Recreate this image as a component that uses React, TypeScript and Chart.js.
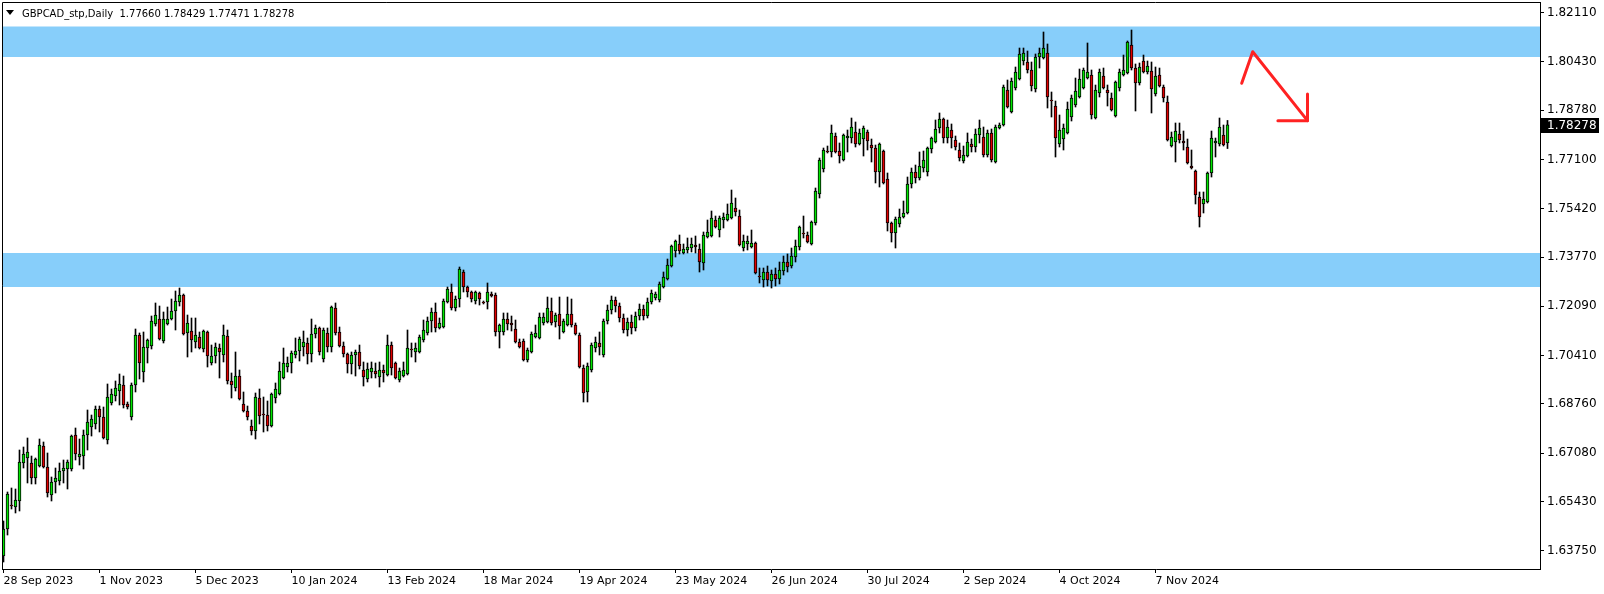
import React, { useEffect, useRef } from 'react';
import { Chart, registerables } from 'chart.js';

Chart.register(...registerables);

const symbolTitle = 'GBPCAD_stp,Daily';

const opens = [
  1.63576, 1.64497, 1.65315, 1.65247, 1.65452, 1.66748, 1.66918, 1.66748, 1.66236, 1.66645,
  1.67327, 1.66611, 1.65656, 1.66100, 1.66134, 1.66475, 1.66543, 1.66543, 1.67702, 1.66952,
  1.66986, 1.67702, 1.67975, 1.68078, 1.68589, 1.68316, 1.67532, 1.68794, 1.69032, 1.69203,
  1.69407, 1.68760, 1.68316, 1.69407, 1.71112, 1.69851, 1.70669, 1.70737, 1.71488, 1.71658,
  1.70908, 1.71488, 1.71658, 1.71931, 1.72238, 1.72476, 1.71181, 1.71249, 1.70874, 1.71044,
  1.70635, 1.71215, 1.70158, 1.70396, 1.70669, 1.70430, 1.71078, 1.69544, 1.69305, 1.69714,
  1.68760, 1.68521, 1.68009, 1.67839, 1.68964, 1.68419, 1.68384, 1.68009, 1.68964, 1.69101,
  1.69646, 1.70021, 1.70158, 1.70430, 1.70567, 1.70703, 1.70840, 1.70465, 1.71147, 1.71351,
  1.70294, 1.71181, 1.70703, 1.72033, 1.71215, 1.70737, 1.70465, 1.70124, 1.70430, 1.70533,
  1.69919, 1.69612, 1.69851, 1.69885, 1.69680, 1.69919, 1.69748, 1.70771, 1.70158, 1.69578,
  1.69714, 1.69783, 1.70635, 1.70533, 1.70533, 1.70942, 1.71181, 1.71590, 1.71897, 1.71351,
  1.71385, 1.72238, 1.72579, 1.72033, 1.72340, 1.73261, 1.72749, 1.72579, 1.72272, 1.72545,
  1.72238, 1.72238, 1.72511, 1.72476, 1.71215, 1.71215, 1.71658, 1.71522, 1.71317, 1.70874,
  1.70908, 1.70260, 1.70533, 1.71044, 1.71010, 1.71522, 1.71556, 1.71931, 1.71556, 1.71829,
  1.71215, 1.71453, 1.71829, 1.71453, 1.71112, 1.69987, 1.69169, 1.69919, 1.70669, 1.70840,
  1.70430, 1.71590, 1.71965, 1.72306, 1.72101, 1.71692, 1.71283, 1.71556, 1.71351, 1.71760,
  1.71999, 1.71760, 1.72238, 1.72374, 1.72306, 1.72749, 1.73022, 1.73465, 1.73977, 1.74216,
  1.73909, 1.74011, 1.74079, 1.74181, 1.74045, 1.73568, 1.74454, 1.74488, 1.75034, 1.74693,
  1.75034, 1.75034, 1.75102, 1.75443, 1.75170, 1.74079, 1.74216, 1.74113, 1.74250, 1.73124,
  1.72988, 1.73261, 1.72954, 1.73193, 1.73022, 1.73295, 1.73602, 1.73465, 1.73772, 1.74113,
  1.74591, 1.74522, 1.74216, 1.74932, 1.75921, 1.76773, 1.77387, 1.77353, 1.77898, 1.77387,
  1.77080, 1.77830, 1.77830, 1.78035, 1.77626, 1.77796, 1.78035, 1.77591, 1.77489, 1.76671,
  1.77387, 1.76432, 1.74932, 1.74591, 1.74898, 1.75136, 1.75273, 1.76262, 1.76671, 1.76466,
  1.76807, 1.76671, 1.77455, 1.77694, 1.78171, 1.78478, 1.77830, 1.78103, 1.77762, 1.77421,
  1.77046, 1.77216, 1.77626, 1.77523, 1.77932, 1.77864, 1.77250, 1.78001, 1.77012, 1.78171,
  1.78273, 1.79467, 1.78717, 1.79535, 1.79842, 1.80456, 1.80422, 1.80149, 1.79501, 1.80592,
  1.80558, 1.80729, 1.79126, 1.78921, 1.77626, 1.77796, 1.78001, 1.78546, 1.78955, 1.79228,
  1.79535, 1.79876, 1.79978, 1.78512, 1.79365, 1.79944, 1.79467, 1.79194, 1.78580, 1.79535,
  1.79978, 1.80047, 1.81001, 1.80217, 1.79706, 1.80456, 1.80081, 1.80115, 1.79331, 1.79978,
  1.79569, 1.79058, 1.77557, 1.77694, 1.77967, 1.77728, 1.77523, 1.76875, 1.76705, 1.75818,
  1.75580, 1.75648, 1.76637, 1.77660, 1.77626, 1.77932, 1.77660,
];

const highs = [
  1.64770, 1.65759, 1.65895, 1.65861, 1.67191, 1.67293, 1.67600, 1.66986, 1.66918, 1.67566,
  1.67464, 1.67089, 1.66270, 1.66577, 1.66748, 1.66850, 1.66850, 1.67702, 1.67941, 1.67566,
  1.67873, 1.68555, 1.68384, 1.68691, 1.68691, 1.68657, 1.69442, 1.69271, 1.69544, 1.69783,
  1.69714, 1.68828, 1.69476, 1.71317, 1.71181, 1.71215, 1.70976, 1.71760, 1.72204, 1.72101,
  1.71897, 1.72067, 1.72340, 1.72613, 1.72715, 1.72511, 1.71794, 1.71692, 1.71692, 1.71215,
  1.71283, 1.71249, 1.70771, 1.70840, 1.70806, 1.71453, 1.71283, 1.69817, 1.70533, 1.69919,
  1.69169, 1.68691, 1.68214, 1.69135, 1.69271, 1.68998, 1.68862, 1.69135, 1.69476, 1.70192,
  1.70669, 1.70362, 1.70567, 1.71010, 1.71044, 1.71249, 1.71010, 1.71658, 1.71453, 1.71385,
  1.71351, 1.71351, 1.72101, 1.72204, 1.71385, 1.70874, 1.70499, 1.70533, 1.70601, 1.70771,
  1.70192, 1.70158, 1.70192, 1.70158, 1.70192, 1.70089, 1.71112, 1.70874, 1.70192, 1.69987,
  1.70192, 1.71283, 1.70840, 1.70840, 1.71112, 1.71624, 1.71726, 1.72033, 1.72204, 1.71692,
  1.72340, 1.72749, 1.72852, 1.72442, 1.73431, 1.73329, 1.72783, 1.72613, 1.72613, 1.72579,
  1.72272, 1.72886, 1.72579, 1.72545, 1.71488, 1.71863, 1.71863, 1.71760, 1.71624, 1.70976,
  1.70976, 1.70669, 1.71215, 1.71453, 1.71863, 1.71863, 1.72408, 1.72374, 1.71863, 1.72408,
  1.71658, 1.72408, 1.72340, 1.71522, 1.71181, 1.70089, 1.70158, 1.70840, 1.71044, 1.71215,
  1.71658, 1.72135, 1.72442, 1.72408, 1.72204, 1.71829, 1.71692, 1.71794, 1.71897, 1.72170,
  1.72135, 1.72374, 1.72647, 1.72579, 1.72920, 1.73261, 1.73704, 1.74181, 1.74352, 1.74522,
  1.74216, 1.74420, 1.74420, 1.74488, 1.74216, 1.74625, 1.75034, 1.75341, 1.75170, 1.75170,
  1.75273, 1.75580, 1.76057, 1.75784, 1.75375, 1.74522, 1.74488, 1.74693, 1.74284, 1.73397,
  1.73397, 1.73465, 1.73329, 1.73397, 1.73602, 1.73806, 1.73875, 1.74079, 1.74352, 1.74829,
  1.75170, 1.74625, 1.75000, 1.76125, 1.77148, 1.77489, 1.77557, 1.78273, 1.78001, 1.77660,
  1.77967, 1.78103, 1.78512, 1.78376, 1.78137, 1.78239, 1.78103, 1.77796, 1.77591, 1.77660,
  1.77421, 1.76637, 1.74966, 1.75136, 1.75409, 1.75682, 1.76500, 1.76807, 1.76909, 1.77353,
  1.77387, 1.77523, 1.77864, 1.78444, 1.78683, 1.78512, 1.78444, 1.78308, 1.77898, 1.77660,
  1.77557, 1.78001, 1.77796, 1.78137, 1.78444, 1.78205, 1.78103, 1.78137, 1.78273, 1.78342,
  1.79637, 1.79808, 1.79876, 1.80251, 1.80899, 1.80899, 1.80797, 1.80422, 1.80695, 1.80899,
  1.81445, 1.81036, 1.79399, 1.79092, 1.78614, 1.78308, 1.79058, 1.79296, 1.79876, 1.80183,
  1.80217, 1.81070, 1.80149, 1.79637, 1.80183, 1.80217, 1.79637, 1.79365, 1.79774, 1.80183,
  1.80660, 1.81138, 1.81513, 1.80354, 1.80388, 1.80660, 1.80456, 1.80422, 1.80251, 1.80217,
  1.79637, 1.79262, 1.78035, 1.78342, 1.78342, 1.78069, 1.77796, 1.77421, 1.76739, 1.75989,
  1.75989, 1.76671, 1.78069, 1.77830, 1.78512, 1.78273, 1.78429,
];

const lows = [
  1.63372, 1.64292, 1.65179, 1.65043, 1.65111, 1.66577, 1.66066, 1.66032, 1.66032, 1.66611,
  1.66577, 1.65588, 1.65452, 1.65725, 1.65997, 1.66066, 1.65861, 1.66475, 1.66850, 1.66679,
  1.66543, 1.67191, 1.67668, 1.67907, 1.67805, 1.67566, 1.67396, 1.68725, 1.68862, 1.68725,
  1.68623, 1.68589, 1.68214, 1.69169, 1.69612, 1.69510, 1.70158, 1.70635, 1.71419, 1.70942,
  1.70840, 1.71453, 1.71624, 1.71283, 1.72101, 1.71112, 1.70362, 1.70533, 1.70669, 1.70635,
  1.70533, 1.70021, 1.70089, 1.70158, 1.69646, 1.70192, 1.69442, 1.68964, 1.69203, 1.68896,
  1.68487, 1.68214, 1.67702, 1.67566, 1.68078, 1.67805, 1.67839, 1.67975, 1.68794, 1.69066,
  1.69612, 1.69851, 1.69817, 1.70328, 1.70226, 1.70396, 1.70124, 1.70192, 1.71010, 1.70430,
  1.70192, 1.70533, 1.70533, 1.71112, 1.70703, 1.70362, 1.69817, 1.69783, 1.69714, 1.69953,
  1.69373, 1.69510, 1.69646, 1.69646, 1.69339, 1.69510, 1.69714, 1.69748, 1.69612, 1.69510,
  1.69680, 1.69748, 1.70362, 1.70192, 1.70499, 1.70874, 1.71112, 1.71215, 1.71215, 1.71317,
  1.71351, 1.72204, 1.71965, 1.71931, 1.72067, 1.72579, 1.72408, 1.72238, 1.72170, 1.72135,
  1.72170, 1.71999, 1.72408, 1.71078, 1.70669, 1.71112, 1.71283, 1.71249, 1.70840, 1.70669,
  1.70226, 1.70192, 1.70499, 1.71010, 1.70976, 1.71453, 1.71522, 1.71453, 1.71385, 1.70976,
  1.71181, 1.71419, 1.71385, 1.71112, 1.69987, 1.68828, 1.68828, 1.69851, 1.70533, 1.70430,
  1.70362, 1.71488, 1.71829, 1.71897, 1.71556, 1.71181, 1.71078, 1.71147, 1.71249, 1.71624,
  1.71624, 1.71692, 1.72170, 1.72306, 1.72238, 1.72715, 1.72988, 1.73431, 1.73772, 1.73875,
  1.73875, 1.73909, 1.73943, 1.73909, 1.73261, 1.73329, 1.74420, 1.74454, 1.74761, 1.74454,
  1.74761, 1.75000, 1.75068, 1.75170, 1.74147, 1.73977, 1.74011, 1.74079, 1.73193, 1.72886,
  1.72749, 1.72783, 1.72715, 1.72783, 1.72852, 1.73158, 1.73261, 1.73397, 1.73602, 1.74011,
  1.74420, 1.74250, 1.74181, 1.74863, 1.75784, 1.76671, 1.77319, 1.77182, 1.77319, 1.76978,
  1.77046, 1.77353, 1.77660, 1.77523, 1.77591, 1.77216, 1.77421, 1.77012, 1.76296, 1.76159,
  1.76262, 1.74659, 1.74284, 1.74079, 1.74795, 1.75102, 1.75239, 1.76125, 1.76296, 1.76398,
  1.76671, 1.76534, 1.77319, 1.77660, 1.78001, 1.77660, 1.77660, 1.77489, 1.77421, 1.77046,
  1.76978, 1.77182, 1.77353, 1.77353, 1.77660, 1.77182, 1.77182, 1.77012, 1.76978, 1.78137,
  1.78239, 1.78853, 1.78683, 1.79467, 1.79808, 1.80319, 1.80047, 1.79433, 1.79399, 1.80217,
  1.80524, 1.78853, 1.78546, 1.77182, 1.77523, 1.77421, 1.77967, 1.78410, 1.78887, 1.79194,
  1.79501, 1.79842, 1.78478, 1.78478, 1.79228, 1.79501, 1.78921, 1.78751, 1.78546, 1.79433,
  1.79944, 1.80013, 1.80149, 1.78751, 1.79637, 1.80047, 1.80013, 1.78683, 1.79262, 1.79569,
  1.79058, 1.77728, 1.77523, 1.77012, 1.77660, 1.77421, 1.76944, 1.76773, 1.75580, 1.74795,
  1.75273, 1.75614, 1.76500, 1.77182, 1.77557, 1.77557, 1.77471,
];

const closes = [
  1.64497, 1.65691, 1.65281, 1.65486, 1.66782, 1.67055, 1.67123, 1.66236, 1.66884, 1.67361,
  1.66611, 1.65725, 1.66100, 1.66236, 1.66475, 1.66577, 1.66782, 1.67668, 1.67055, 1.67055,
  1.67702, 1.68146, 1.68248, 1.68589, 1.68316, 1.67600, 1.68998, 1.69101, 1.69305, 1.69442,
  1.68725, 1.68657, 1.69407, 1.71112, 1.70158, 1.70703, 1.70942, 1.71590, 1.71794, 1.70976,
  1.71658, 1.71658, 1.71931, 1.72272, 1.72476, 1.71147, 1.71522, 1.70942, 1.71112, 1.70669,
  1.71249, 1.70396, 1.70396, 1.70703, 1.70533, 1.71112, 1.69544, 1.69407, 1.69714, 1.68930,
  1.68521, 1.68316, 1.67839, 1.68998, 1.68350, 1.68384, 1.68009, 1.69101, 1.69271, 1.69885,
  1.70158, 1.70158, 1.70499, 1.70567, 1.70976, 1.70874, 1.70465, 1.71147, 1.71351, 1.70533,
  1.71283, 1.70703, 1.72067, 1.71181, 1.70737, 1.70465, 1.70124, 1.70430, 1.70533, 1.70055,
  1.69680, 1.69953, 1.69987, 1.69783, 1.69919, 1.69817, 1.70771, 1.69987, 1.69646, 1.69885,
  1.69919, 1.70669, 1.70601, 1.70669, 1.71044, 1.71283, 1.71590, 1.71897, 1.71351, 1.71522,
  1.72272, 1.72681, 1.72033, 1.72340, 1.73363, 1.72749, 1.72579, 1.72340, 1.72579, 1.72340,
  1.72204, 1.72579, 1.72442, 1.71215, 1.71453, 1.71658, 1.71488, 1.71453, 1.70874, 1.70703,
  1.70260, 1.70601, 1.71147, 1.71181, 1.71726, 1.71726, 1.72033, 1.71522, 1.71794, 1.71419,
  1.71590, 1.71829, 1.71453, 1.71147, 1.70021, 1.69135, 1.70055, 1.70771, 1.70874, 1.70703,
  1.71590, 1.71965, 1.72306, 1.72101, 1.71692, 1.71283, 1.71556, 1.71351, 1.71760, 1.71999,
  1.71760, 1.72238, 1.72545, 1.72511, 1.72852, 1.73090, 1.73499, 1.74147, 1.74318, 1.73977,
  1.74045, 1.74113, 1.74216, 1.74113, 1.73602, 1.74522, 1.74625, 1.75102, 1.74795, 1.75102,
  1.75136, 1.75239, 1.75614, 1.75307, 1.74181, 1.74318, 1.74318, 1.74250, 1.73227, 1.73090,
  1.73261, 1.72988, 1.73193, 1.73022, 1.73329, 1.73602, 1.73431, 1.73806, 1.74147, 1.74795,
  1.74557, 1.74284, 1.74966, 1.76023, 1.77080, 1.77421, 1.77353, 1.78001, 1.77353, 1.77216,
  1.77932, 1.77898, 1.78205, 1.77626, 1.78001, 1.78171, 1.77728, 1.77489, 1.76671, 1.77626,
  1.76296, 1.74932, 1.74591, 1.75068, 1.75136, 1.75273, 1.76262, 1.76671, 1.76466, 1.76875,
  1.77080, 1.77489, 1.77830, 1.78137, 1.78478, 1.77830, 1.78205, 1.77830, 1.77523, 1.77148,
  1.77250, 1.77694, 1.77523, 1.77967, 1.78171, 1.77250, 1.78001, 1.77080, 1.78205, 1.78273,
  1.79569, 1.78887, 1.79774, 1.80081, 1.80695, 1.80729, 1.80149, 1.79603, 1.80592, 1.80729,
  1.80899, 1.79228, 1.79092, 1.77830, 1.78103, 1.78171, 1.78819, 1.79194, 1.79433, 1.79842,
  1.80149, 1.80081, 1.78614, 1.79467, 1.80081, 1.79535, 1.79365, 1.78785, 1.79740, 1.80081,
  1.80149, 1.81104, 1.80217, 1.79706, 1.80251, 1.80081, 1.80285, 1.79501, 1.79944, 1.79603,
  1.79194, 1.77762, 1.77864, 1.78069, 1.77762, 1.77660, 1.76978, 1.76807, 1.75886, 1.75136,
  1.75750, 1.76637, 1.77830, 1.77728, 1.78205, 1.77591, 1.78278,
];

const dateTickLabels = [
  '28 Sep 2023', '1 Nov 2023', '5 Dec 2023', '10 Jan 2024', '13 Feb 2024', '18 Mar 2024',
  '19 Apr 2024', '23 May 2024', '26 Jun 2024', '30 Jul 2024', '2 Sep 2024', '4 Oct 2024', '7 Nov 2024',
];
const dateTickBars = [0, 24, 48, 72, 96, 120, 144, 168, 192, 216, 240, 264, 288];

const priceTicks = [
  1.82110, 1.80430, 1.78780, 1.77100, 1.75420, 1.73770,
  1.72090, 1.70410, 1.68760, 1.67080, 1.65430, 1.63750,
];

const zoneUpper = [1.80593, 1.81633];
const zoneLower = [1.72750, 1.73909];

const arrowBarX = [309.55, 312.3, 326];
const arrowPriceY = [1.79696, 1.80773, 1.78421];
const arrowHeadBarX = [318.6, 326, 326];
const arrowHeadPriceY = [1.78421, 1.78421, 1.79331];

const X_MIN = -0.375;
const X_MAX = 384.125;
const Y_MIN = 1.63133;
const Y_MAX = 1.82468;

const FONT = '"DejaVu Sans", Verdana, sans-serif';

export default function App() {
  const ref = useRef<HTMLCanvasElement>(null);
  const last = closes.length - 1;
  const headerText = `${symbolTitle}  ${opens[last].toFixed(5)} ${highs[last].toFixed(5)} ${lows[last].toFixed(5)} ${closes[last].toFixed(5)}`;

  useEffect(() => {
    if (!ref.current) return;
    const idx = closes.map((_, i) => i);
    const bodyColors = idx.map((i) => (closes[i] >= opens[i] ? '#00e600' : '#e00000'));

    const framePlugin = {
      id: 'frame',
      afterDraw(chart: any) {
        const { ctx, chartArea: a } = chart;
        ctx.save();
        ctx.strokeStyle = '#000';
        ctx.lineWidth = 1;
        ctx.beginPath();
        ctx.moveTo(a.left + 0.5, a.bottom);
        ctx.lineTo(a.left + 0.5, a.top + 0.5);
        ctx.lineTo(a.right, a.top + 0.5);
        ctx.stroke();
        ctx.restore();
      },
    };

    const priceTagPlugin = {
      id: 'priceTag',
      afterDraw(chart: any) {
        const { ctx, chartArea: a } = chart;
        const y = Math.round(chart.scales.y.getPixelForValue(closes[last]));
        ctx.save();
        ctx.fillStyle = '#000';
        ctx.fillRect(a.right + 1, y - 7, 58, 15);
        ctx.fillStyle = '#fff';
        ctx.font = `12px ${FONT}`;
        ctx.textBaseline = 'middle';
        ctx.textAlign = 'left';
        ctx.fillText(closes[last].toFixed(5), a.right + 7, y + 1);
        ctx.restore();
      },
    };

    const flat = (v: number) => [{ x: X_MIN, y: v }, { x: X_MAX, y: v }];
    const noLine = { type: 'line', borderWidth: 0, borderColor: 'rgba(0,0,0,0)', pointRadius: 0, order: 10 };

    const chart = new Chart(ref.current, {
      type: 'bar',
      data: {
        datasets: [
          { ...noLine, data: flat(zoneUpper[1]), fill: false } as any,
          { ...noLine, data: flat(zoneUpper[0]), fill: '-1', backgroundColor: '#87cefa' } as any,
          { ...noLine, data: flat(zoneLower[1]), fill: false } as any,
          { ...noLine, data: flat(zoneLower[0]), fill: '-1', backgroundColor: '#87cefa' } as any,
          {
            type: 'bar',
            data: idx.map((i) => ({ x: i, y: [lows[i], highs[i]] })),
            backgroundColor: '#000',
            borderWidth: 0,
            barThickness: 1,
            grouped: false,
            order: 3,
          } as any,
          {
            type: 'bar',
            data: idx.map((i) => ({ x: i, y: [opens[i], closes[i]] })),
            backgroundColor: bodyColors,
            borderColor: '#000',
            borderWidth: 1,
            borderSkipped: false,
            barThickness: 3,
            grouped: false,
            order: 2,
          } as any,
          {
            type: 'line',
            data: arrowBarX.map((x, i) => ({ x, y: arrowPriceY[i] })),
            borderColor: '#ff2222',
            borderWidth: 3,
            pointRadius: 0,
            fill: false,
            borderCapStyle: 'round',
            borderJoinStyle: 'round',
            order: 0,
          } as any,
          {
            type: 'line',
            data: arrowHeadBarX.map((x, i) => ({ x, y: arrowHeadPriceY[i] })),
            borderColor: '#ff2222',
            borderWidth: 3,
            pointRadius: 0,
            fill: false,
            borderCapStyle: 'round',
            borderJoinStyle: 'round',
            order: 0,
          } as any,
        ],
      },
      options: {
        animation: false,
        responsive: false,
        devicePixelRatio: 1,
        events: [],
        layout: { padding: { left: 2, top: 2, right: 0, bottom: 0 } },
        plugins: {
          legend: { display: false },
          tooltip: { enabled: false },
          title: { display: false },
        },
        scales: {
          x: {
            type: 'linear',
            min: X_MIN,
            max: X_MAX,
            offset: false,
            grid: { drawOnChartArea: false, drawTicks: true, tickLength: 4, color: '#000', offset: false },
            border: { display: true, color: '#000', width: 1 },
            ticks: {
              autoSkip: false,
              maxRotation: 0,
              minRotation: 0,
              align: 'start',
              padding: 2,
              color: '#000',
              font: { family: FONT, size: 11 },
              callback: (_v: any, i: number) => dateTickLabels[i],
            },
            afterBuildTicks: (s: any) => {
              s.ticks = dateTickBars.map((v) => ({ value: v }));
            },
            afterFit: (s: any) => {
              s.height = 25;
              s.paddingLeft = 0;
              s.paddingRight = 0;
            },
          },
          y: {
            type: 'linear',
            position: 'right',
            min: Y_MIN,
            max: Y_MAX,
            grid: { drawOnChartArea: false, drawTicks: true, tickLength: 4, color: '#000' },
            border: { display: true, color: '#000', width: 1 },
            ticks: {
              autoSkip: false,
              padding: 3,
              color: '#000',
              font: { family: FONT, size: 12 },
              callback: (v: any) => Number(v).toFixed(5),
            },
            afterBuildTicks: (s: any) => {
              s.ticks = priceTicks.map((v) => ({ value: v }));
            },
            afterFit: (s: any) => {
              s.width = 64;
              s.paddingTop = 0;
              s.paddingBottom = 0;
            },
          },
        },
      } as any,
      plugins: [framePlugin, priceTagPlugin],
    });
    return () => chart.destroy();
  }, []);

  return (
    <div style={{ position: 'absolute', left: 0, top: 0, width: 1604, height: 594, background: '#fff' }}>
      <canvas ref={ref} width={1604} height={594} style={{ display: 'block', width: 1604, height: 594 }} />
      <div
        style={{
          position: 'absolute',
          left: 6,
          top: 10,
          width: 0,
          height: 0,
          borderLeft: '4.5px solid transparent',
          borderRight: '4.5px solid transparent',
          borderTop: '5px solid #000',
        }}
      />
      <div
        style={{
          position: 'absolute',
          left: 22,
          top: 7,
          font: `10px ${FONT}`,
          lineHeight: '14px',
          whiteSpace: 'pre',
          color: '#000',
        }}
      >
        {headerText}
      </div>
    </div>
  );
}
